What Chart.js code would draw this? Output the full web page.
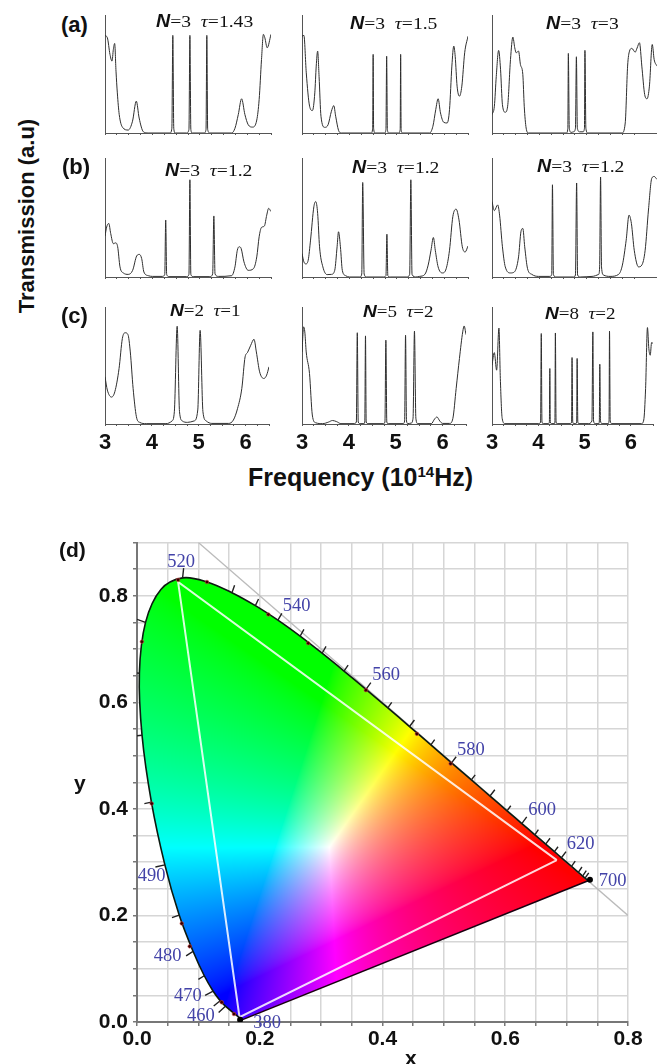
<!DOCTYPE html>
<html>
<head>
<meta charset="utf-8">
<script src="https://cdn.jsdelivr.net/npm/chart.js@4"></script>
<style>
  html, body { margin: 0; padding: 0; background: #fff; }
  body { position: relative; width: 657px; height: 1064px; overflow: hidden; }
  canvas { position: absolute; filter: blur(0.35px); }
  .txt { position: absolute; white-space: nowrap; color: #111; line-height: 1; }
  .bold { font-family: "Liberation Sans", Arial, sans-serif; font-weight: bold; }
  .pt { font-family: "Liberation Serif", "Times New Roman", serif; transform: scaleX(1.12); transform-origin: left center; }
  .pt b { font-family: "Liberation Sans", Arial, sans-serif; font-style: italic; }
  sup { font-size: 60%; line-height: 0; }
</style>
</head>
<body>
<script>
// spectra, frequency in 1e14 Hz, transmission as fraction of the axis height
const a1Freq = [3,3.05,3.105,3.148,3.176,3.204,3.232,3.26,3.3,3.37,3.49,3.58,3.66,3.72,3.81,3.91,4.37,4.41,4.43,4.45,4.48,4.72,4.77,4.79,4.81,4.84,5.09,5.13,5.147,5.165,5.21,5.67,5.74,5.81,5.88,5.95,6.02,6.11,6.2,6.25,6.3,6.34,6.37,6.42,6.5];
const a1Trans = [.827,.807,.666,.609,.708,.759,.524,.34,.156,.048,.025,.1,.27,.127,.01,0,0,.04,.827,.04,0,0,.03,.827,.03,0,0,.03,.827,.03,0,0,.04,.156,.29,.156,.07,.05,.11,.283,.623,.836,.807,.722,.836];
const a2Freq = [3,3.04,3.09,3.16,3.22,3.27,3.3,3.33,3.36,3.4,3.48,3.55,3.62,3.67,3.71,3.77,3.83,4.46,4.49,4.5,4.51,4.54,4.74,4.77,4.785,4.8,4.83,5.04,5.07,5.08,5.09,5.12,5.69,5.76,5.82,5.87,5.92,5.99,6.06,6.11,6.16,6.2,6.23,6.27,6.32,6.37,6.43,6.5];
const a2Trans = [.82,.827,.51,.227,.19,.34,.567,.694,.48,.142,.048,.07,.184,.232,.142,.023,0,0,.04,.666,.04,0,0,.03,.65,.03,0,0,.03,.666,.03,0,0,.057,.198,.29,.17,.09,.085,.198,.567,.737,.65,.397,.312,.397,.68,.82];
const a3Freq = [3,3.05,3.09,3.14,3.18,3.22,3.28,3.33,3.39,3.44,3.48,3.51,3.56,3.6,3.65,3.68,3.72,3.77,4.57,4.6,4.61,4.63,4.67,4.72,4.76,4.78,4.8,4.85,4.92,4.95,4.96,4.98,5.02,5.74,5.81,5.86,5.9,5.95,6.02,6.06,6.11,6.16,6.22,6.27,6.32,6.38,6.42,6.48];
const a3Trans = [.156,.227,.48,.7,.54,.24,.176,.227,.623,.813,.722,.68,.694,.58,.496,.227,.042,0,0,.04,.674,.04,.005,.01,.04,.646,.04,.01,.01,.04,.7,.04,0,0,.085,.567,.694,.717,.685,.72,.765,.567,.326,.29,.397,.75,.623,.567];

const b1Freq = [3,3.035,3.08,3.12,3.176,3.225,3.267,3.316,3.387,3.49,3.583,3.668,3.724,3.773,3.82,3.914,4,4.21,4.26,4.28,4.3,4.35,4.72,4.77,4.79,4.81,4.86,5.21,5.27,5.295,5.32,5.39,5.67,5.74,5.79,5.83,5.87,5.93,6.02,6.13,6.2,6.25,6.3,6.36,6.41,6.45,6.5];
const b1Trans = [.344,.42,.45,.366,.28,.287,.254,.085,.034,.022,.056,.177,.19,.155,.042,.011,.005,.005,.022,.479,.022,.003,.003,.022,.817,.022,.003,.003,.025,.513,.025,.005,.011,.085,.225,.254,.24,.127,.056,.07,.169,.338,.417,.428,.52,.577,.55];
const b2Freq = [3,3.04,3.08,3.13,3.18,3.25,3.29,3.33,3.37,3.44,3.53,3.62,3.69,3.74,3.77,3.81,3.85,3.92,4,4.22,4.26,4.28,4.31,4.36,4.71,4.77,4.79,4.81,4.86,5.21,5.27,5.295,5.32,5.4,5.48,5.59,5.66,5.72,5.77,5.81,5.87,5.96,6.04,6.11,6.18,6.25,6.31,6.38,6.44,6.5];
const b2Trans = [.197,.127,.11,.14,.31,.59,.634,.535,.254,.085,.02,.022,.056,.254,.38,.254,.056,.011,0,0,.025,.794,.025,0,0,.011,.36,.011,0,0,.022,.817,.022,0,.005,.022,.1,.225,.332,.225,.085,.034,.07,.225,.507,.57,.48,.254,.21,.26];
const b3Freq = [3,3.05,3.12,3.16,3.22,3.28,3.39,3.47,3.56,3.61,3.65,3.69,3.75,3.84,3.98,4.22,4.26,4.275,4.295,4.35,4.72,4.76,4.785,4.805,4.86,5.11,5.25,5.27,5.29,5.31,5.35,5.49,5.67,5.75,5.83,5.89,5.94,6,6.09,6.16,6.23,6.3,6.37,6.42,6.48];
const b3Trans = [.634,.558,.606,.52,.254,.085,.034,.042,.169,.38,.408,.254,.07,.022,.005,.005,.022,.775,.022,0,0,.017,.79,.017,0,.005,.022,.085,.84,.085,.017,.005,.022,.1,.31,.52,.45,.225,.085,.1,.225,.563,.83,.845,.82];

const c1Freq = [3,3.05,3.14,3.21,3.3,3.37,3.43,3.49,3.54,3.6,3.67,3.74,3.88,4.3,4.43,4.48,4.54,4.59,4.65,4.76,4.9,4.98,5.03,5.09,5.16,5.28,5.64,5.74,5.83,5.92,5.99,6.04,6.11,6.18,6.23,6.3,6.39,6.45,6.5];
const c1Trans = [.403,.29,.23,.276,.474,.73,.78,.764,.616,.304,.0625,.014,.003,.003,.026,.105,.835,.105,.026,.014,.026,.12,.8,.105,.026,.005,.005,.034,.134,.304,.574,.61,.673,.724,.616,.446,.389,.418,.489];
const c2Freq = [3,3.035,3.06,3.09,3.16,3.22,3.29,3.44,3.57,3.65,3.74,3.83,4.11,4.16,4.18,4.2,4.24,4.32,4.34,4.355,4.37,4.41,4.74,4.77,4.79,4.81,4.84,5.16,5.19,5.21,5.23,5.26,5.33,5.37,5.4,5.43,5.47,5.76,5.83,5.88,5.94,6,6.15,6.22,6.29,6.36,6.43,6.46,6.5];
const c2Trans = [.616,.83,.787,.616,.432,.077,.011,.003,.017,.03,.02,.003,.003,.017,.78,.017,.003,.003,.017,.753,.017,.003,.003,.017,.716,.017,.003,.003,.026,.758,.026,.003,.008,.05,.793,.05,.003,.003,.043,.06,.026,.005,.005,.048,.304,.56,.787,.838,.764];
const c3Freq = [3,3.05,3.1,3.15,3.18,3.22,3.28,4.01,4.05,4.065,4.08,4.11,4.22,4.24,4.25,4.26,4.29,4.35,4.36,4.37,4.385,4.41,4.69,4.72,4.73,4.745,4.77,4.81,4.83,4.84,4.855,4.88,5.08,5.16,5.18,5.195,5.23,5.31,5.32,5.33,5.345,5.38,5.51,5.53,5.54,5.555,5.59,6.23,6.28,6.32,6.36,6.39,6.42,6.45,6.48];
const c3Trans = [.503,.61,.46,.82,.39,.048,.003,.003,.017,.773,.017,.003,.003,.017,.474,.017,.003,.003,.017,.778,.017,.003,.003,.017,.568,.017,.003,.003,.017,.56,.017,.003,.003,.026,.787,.026,.003,.003,.026,.511,.026,.003,.003,.026,.793,.026,.003,.003,.034,.304,.824,.645,.588,.696,.688];

const freqTicks = [3, 4, 5, 6];
const panelTitles = [
  ['3', '1.43'], ['3', '1.5'], ['3', '3'],
  ['3', '1.2'], ['3', '1.2'], ['3', '1.2'],
  ['2', '1'], ['5', '2'], ['8', '2']
];

// CIE 1931 diagram
const locusX = [.171,.144,.1355,.1241,.1096,.0913,.0687,.0454,.0235,.0082,.0039,.0139,.0389,.0743,.1142,.1547,.1929,.2296,.2658,.3016,.3373,.3731,.4087,.4441,.4788,.5125,.5448,.5752,.6029,.627,.6482,.6658,.6801,.6915,.7079,.719,.726,.735];
const locusY = [.004,.0297,.0399,.0578,.0868,.1327,.2007,.295,.4127,.5384,.6548,.7502,.812,.8338,.8262,.8059,.7816,.7543,.7243,.6923,.6589,.6245,.5896,.5547,.5202,.4866,.4544,.4242,.3965,.3725,.3514,.334,.3197,.3083,.292,.281,.274,.265];
const purpleX = [.735, .171];
const purpleY = [.265, .004];
const triangleX = [.684, .067, .167, .684];
const triangleY = [.304, .826, .009, .304];
const diagonalX = [.1, .8];
const diagonalY = [.9, .2];
const tickX = [.0743,.076,null,.1547,.159,null,.1929,.198,null,.2296,.236,null,.2658,.272,null,.3016,.308,null,.3373,.344,null,.3731,.381,null,.4087,.415,null,.4441,.452,null,.4788,.485,null,.5125,.52,null,.5448,.551,null,.5752,.583,null,.6029,.609,null,.627,.635,null,.6482,.654,null,.6658,.673,null,.6801,.686,null,.6915,.699,null,.7079,.714,null,.719,.725,null,.726,.732,null,.73,.736,null,.0139,0,null,.0039,-.005,null,.0082,-.004,null,.0235,.012,null,.0454,.03,null,.0687,.057,null,.0913,.08,null,.1096,.1,null,.1241,.111,null,.1355,.125,null,.144,.133];
const tickY = [.8338,.852,null,.8059,.82,null,.7816,.794,null,.7543,.767,null,.7243,.737,null,.6923,.705,null,.6589,.67,null,.6245,.637,null,.5896,.6,null,.5547,.567,null,.5202,.53,null,.4866,.498,null,.4544,.464,null,.4242,.436,null,.3965,.406,null,.3725,.385,null,.3514,.361,null,.334,.345,null,.3197,.329,null,.3083,.32,null,.292,.302,null,.281,.291,null,.274,.284,null,.27,.28,null,.7502,.756,null,.6548,.656,null,.5384,.537,null,.4127,.41,null,.295,.291,null,.2007,.196,null,.1327,.124,null,.0868,.08,null,.0578,.05,null,.0399,.03,null,.0297,.018];
const dotX = [.067,.114,.214,.279,.008,.373,.456,.511,.024,.073,.086,.138,.158];
const dotY = [.83,.826,.765,.711,.714,.623,.541,.485,.41,.185,.142,.037,.015];
const endX = [.738, .168];
const endY = [.267, .004];
const waveLabels = ['520','540','560','580','600','620','700','490','480','470','460','380'];
const waveX = [.072,.26,.406,.544,.66,.723,.775,.024,.05,.083,.104,.212];
const waveY = [.864,.78,.651,.51,.397,.334,.265,.273,.123,.048,.011,-.002];

Chart.defaults.animation = false;

function addText(cls, html, left, top, size, extra) {
  const d = document.createElement('div');
  d.className = 'txt ' + cls;
  d.innerHTML = html;
  d.style.left = left + 'px';
  d.style.top = top + 'px';
  if (size) d.style.fontSize = size + 'px';
  if (extra) d.style.cssText += extra;
  document.body.appendChild(d);
  return d;
}

function makeCanvas(left, top, width, height) {
  const c = document.createElement('canvas');
  c.width = width;
  c.height = height;
  c.style.left = left + 'px';
  c.style.top = top + 'px';
  document.body.appendChild(c);
  return c.getContext('2d');
}

function toPoints(xs, ys) {
  return xs.map((x, i) => ({ x: x, y: ys[i] }));
}

// small transmission panels
const colLeft = [105, 302, 492];
const colWidth = [166, 166, 165];
const rowTop = [15, 158, 307];
const rowBottom = [133, 277, 424];
const spectra = [
  [a1Freq, a1Trans], [a2Freq, a2Trans], [a3Freq, a3Trans],
  [b1Freq, b1Trans], [b2Freq, b2Trans], [b3Freq, b3Trans],
  [c1Freq, c1Trans], [c2Freq, c2Trans], [c3Freq, c3Trans]
];

spectra.forEach(function (s, i) {
  const col = i % 3, row = Math.floor(i / 3);
  const last = row === 2;
  const bottomSpace = last ? 36 : 5;
  const leftSpace = 12;
  const w = colWidth[col], h = rowBottom[row] - rowTop[row];
  const padRight = col === 2 ? 0 : 2;
  const ctx = makeCanvas(colLeft[col] - leftSpace, rowTop[row] - 1, w + leftSpace + padRight, h + 1 + bottomSpace);
  new Chart(ctx, {
    type: 'line',
    data: {
      datasets: [{
        data: toPoints(s[0], s[1]),
        borderColor: '#2e2e2e',
        borderWidth: 1,
        pointRadius: 0,
        cubicInterpolationMode: 'monotone'
      }]
    },
    options: {
      responsive: false,
      layout: { autoPadding: false, padding: { top: 1, right: padRight, left: 0, bottom: 0 } },
      plugins: { legend: { display: false }, tooltip: { enabled: false } },
      scales: {
        x: {
          type: 'linear',
          min: 3,
          max: col === 2 ? 6.48 : 6.5,
          afterFit: function (a) { a.height = bottomSpace; },
          grid: { drawOnChartArea: false, drawTicks: true, tickLength: 2, color: '#555' },
          border: { display: true, color: '#555', width: 1 },
          ticks: {
            stepSize: 0.25,
            autoSkip: false,
            maxRotation: 0,
            padding: 4,
            display: last,
            color: '#111',
            font: { family: '"Liberation Sans", Arial, sans-serif', weight: 'bold', size: 22 },
            callback: function (v) { return freqTicks.includes(v) ? String(v) : ''; }
          }
        },
        y: {
          min: 0,
          max: 1,
          afterFit: function (a) { a.width = leftSpace; },
          grid: { display: false },
          border: { display: true, color: '#555', width: 1 },
          ticks: { display: false }
        }
      }
    }
  });
});

// chromaticity colours for the filled locus
function gamutColour(x, y) {
  const z = 1 - x - y;
  let r = 3.2406 * x - 1.5372 * y - 0.4986 * z;
  let g = -0.9689 * x + 1.8758 * y + 0.0415 * z;
  let b = 0.0557 * x - 0.204 * y + 1.057 * z;
  r = Math.max(r, 0); g = Math.max(g, 0); b = Math.max(b, 0);
  const m = Math.max(r, g, b) || 1;
  const f = v => Math.round(255 * Math.pow(v / m, 0.72));
  return [f(r), f(g), f(b)];
}

const gamutFill = {
  id: 'gamutFill',
  beforeDatasetsDraw: function (chart) {
    const area = chart.chartArea, sx = chart.scales.x, sy = chart.scales.y;
    const w = Math.ceil(area.width), h = Math.ceil(area.height);
    const off = document.createElement('canvas');
    off.width = w;
    off.height = h;
    const octx = off.getContext('2d');
    const img = octx.createImageData(w, h);
    for (let j = 0; j < h; j++) {
      const y = sy.getValueForPixel(area.top + j);
      for (let i = 0; i < w; i++) {
        const c = gamutColour(sx.getValueForPixel(area.left + i), y);
        const k = (j * w + i) * 4;
        img.data[k] = c[0];
        img.data[k + 1] = c[1];
        img.data[k + 2] = c[2];
        img.data[k + 3] = 255;
      }
    }
    octx.putImageData(img, 0, 0);

    const line = chart.getDatasetMeta(3).dataset;
    const ctx = chart.ctx;
    line.updateControlPoints(area);
    ctx.save();
    ctx.beginPath();
    line.path(ctx);
    ctx.closePath();
    ctx.clip();
    ctx.drawImage(off, area.left, area.top);
    ctx.restore();
  }
};

const waveText = {
  id: 'waveText',
  afterDatasetsDraw: function (chart) {
    const ctx = chart.ctx;
    ctx.save();
    ctx.font = '18.5px "Liberation Serif", "Times New Roman", serif';
    ctx.fillStyle = '#4343a8';
    ctx.textAlign = 'center';
    ctx.textBaseline = 'middle';
    waveLabels.forEach(function (t, i) {
      ctx.fillText(t, chart.scales.x.getPixelForValue(waveX[i]), chart.scales.y.getPixelForValue(waveY[i]));
    });
    ctx.restore();
  }
};

function diagramAxis(max, size, labelPad) {
  return {
    type: 'linear',
    min: 0,
    max: max,
    afterFit: size,
    grid: { color: '#d6d6d6', lineWidth: 1.5, tickLength: 4, tickColor: '#777' },
    border: { display: true, color: '#777', width: 2 },
    ticks: {
      stepSize: 0.05,
      autoSkip: false,
      maxRotation: 0,
      padding: labelPad,
      color: '#111',
      font: { family: '"Liberation Sans", Arial, sans-serif', weight: 'bold', size: 21 },
      callback: function (v) {
        return Math.round(v * 100) % 20 === 0 ? v.toFixed(1) : '';
      }
    }
  };
}

new Chart(makeCanvas(77, 525, 571, 527), {
  type: 'scatter',
  data: {
    datasets: [
      { data: toPoints(endX, endY), pointRadius: 3, pointBackgroundColor: '#000', pointBorderWidth: 0 },
      { data: toPoints(dotX, dotY), pointRadius: 1.8, pointBackgroundColor: '#300', pointBorderColor: '#c44', pointBorderWidth: 0.6 },
      { data: toPoints(tickX, tickY), showLine: true, borderColor: '#222', borderWidth: 1.4, pointRadius: 0 },
      { data: toPoints(locusX, locusY), showLine: true, tension: 0.35, borderColor: '#0c1a10', borderWidth: 1.6, pointRadius: 0, clip: false },
      { data: toPoints(purpleX, purpleY), showLine: true, borderColor: '#1a0010', borderWidth: 1.6, pointRadius: 0 },
      { data: toPoints(triangleX, triangleY), showLine: true, borderColor: 'rgba(255,255,255,0.85)', borderWidth: 2, pointRadius: 0 },
      { data: toPoints(diagonalX, diagonalY), showLine: true, borderColor: '#bbb', borderWidth: 1.3, pointRadius: 0 }
    ]
  },
  options: {
    responsive: false,
    layout: { autoPadding: false, padding: { top: 15, right: 20, left: 0, bottom: 0 } },
    plugins: { legend: { display: false }, tooltip: { enabled: false } },
    scales: {
      x: diagramAxis(0.8, function (a) { a.height = 30; }, 1),
      y: diagramAxis(0.9, function (a) { a.width = 60; }, 5)
    }
  },
  plugins: [gamutFill, waveText]
});

// panel letters, axis titles
addText('bold', '(a)', 61, 14, 22);
addText('bold', '(b)', 62, 156, 22);
addText('bold', '(c)', 61, 305, 22);
addText('bold', '(d)', 59, 539, 21);
addText('bold', 'Frequency (10<sup>14</sup>Hz)', 248, 465, 25);
addText('bold', 'Transmission (a.u)', 27, 216, 22, 'transform: translate(-50%,-50%) rotate(-90deg);');
addText('bold', 'y', 74, 772, 21);
addText('bold', 'x', 405, 1047, 21);

// N and tau captions above each panel
const titleLeft = [156, 350, 546, 165, 352, 537, 170, 363, 545];
const titleTop = [13, 15, 15, 162, 159, 158, 302, 303, 305];
const titleSize = [17.5, 17.5, 17.5, 17.5, 17.5, 17.5, 17, 17, 17];
panelTitles.forEach(function (t, i) {
  addText('pt', '<b>N</b>=' + t[0] + ' &nbsp;<i>τ</i>=' + t[1], titleLeft[i], titleTop[i], titleSize[i]);
});
</script>
</body>
</html>
